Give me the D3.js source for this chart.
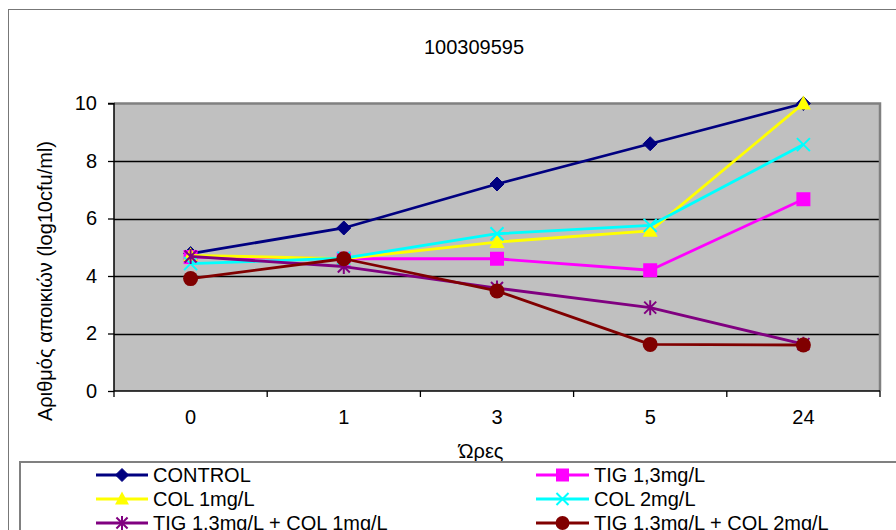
<!DOCTYPE html>
<html>
<head>
<meta charset="utf-8">
<script src="https://cdn.jsdelivr.net/npm/d3@7/dist/d3.min.js"></script>
<style>
  html, body { margin: 0; padding: 0; background: #fff; }
  svg { display: block; }
  text { font-family: "Liberation Sans", Arial, sans-serif; fill: #000; }
</style>
</head>
<body>
<svg id="chart" width="896" height="530"></svg>
<script>
// Time points (hours) and colony counts per treatment
const hours = ["0", "1", "3", "5", "24"];
const yTicks = [0, 2, 4, 6, 8, 10];

const control   = [4.78, 5.67, 7.2, 8.6, 10.0];
const tig13     = [4.66, 4.6, 4.6, 4.2, 6.67];
const col1      = [4.72, 4.6, 5.18, 5.57, 10.0];
const col2      = [4.43, 4.62, 5.47, 5.76, 8.57];
const tigCol1   = [4.68, 4.33, 3.58, 2.9, 1.63];
const tigCol2   = [3.91, 4.6, 3.48, 1.62, 1.6];

const seriesNames  = ["CONTROL", "TIG 1,3mg/L", "COL 1mg/L", "COL 2mg/L",
                      "TIG 1.3mg/L + COL 1mg/L", "TIG 1.3mg/L + COL 2mg/L"];
const seriesValues = [control, tig13, col1, col2, tigCol1, tigCol2];
const seriesColors = ["#000080", "#ff00ff", "#ffff00", "#00ffff", "#800080", "#800000"];
const seriesMarkers = ["diamond", "square", "triangle", "x", "star", "circle"];

const chartTitle = "100309595";
const xTitle = "Ώρες";
const yTitle = "Αριθμός αποικιών (log10cfu/ml)";

const svg = d3.select("#chart");

// Outer chart frame (extends past the visible area on the right and bottom)
svg.append("rect")
  .attr("x", 8.5).attr("y", 9.5)
  .attr("width", 1000).attr("height", 1000)
  .attr("fill", "#fff").attr("stroke", "#777").attr("stroke-width", 1);

const plot = { left: 114, right: 880, top: 103.5, bottom: 391 };

const x = d3.scaleBand().domain(hours).range([plot.left, plot.right]).padding(0);
const y = d3.scaleLinear().domain([0, 10]).range([plot.bottom, plot.top]);
const cx = d => x(d) + x.bandwidth() / 2;

// Plot background
svg.append("rect")
  .attr("x", plot.left).attr("y", plot.top)
  .attr("width", plot.right - plot.left).attr("height", plot.bottom - plot.top)
  .attr("fill", "#c0c0c0");

// Horizontal gridlines
svg.append("g").selectAll("line")
  .data(yTicks.filter(t => t > 0 && t < 10))
  .join("line")
  .attr("x1", plot.left).attr("x2", plot.right)
  .attr("y1", d => Math.round(y(d)) + 0.5).attr("y2", d => Math.round(y(d)) + 0.5)
  .attr("stroke", "#000").attr("stroke-width", 1.3);

// Plot border (top and right in grey)
svg.append("path")
  .attr("d", `M${plot.left},${plot.top} H${plot.right} V${plot.bottom}`)
  .attr("fill", "none").attr("stroke", "#808080").attr("stroke-width", 2.5);

// Y axis
const yAxis = d3.axisLeft(y).tickValues(yTicks).tickSize(6).tickPadding(11);
const gy = svg.append("g").attr("transform", `translate(${plot.left},0)`).call(yAxis);
gy.select(".domain").attr("stroke", "#000").attr("stroke-width", 1.5)
  .attr("d", `M-6,${plot.top}H0V${plot.bottom}`);
gy.selectAll(".tick line").attr("stroke", "#000").attr("stroke-width", 1.3);
gy.selectAll(".tick text")
  .style("font-family", '"Liberation Sans", Arial, sans-serif')
  .style("font-size", "20px").attr("fill", "#000");

// X axis: ticks at category boundaries, labels at band centres
const gx = svg.append("g").attr("transform", `translate(0,${plot.bottom})`);
gx.append("line")
  .attr("x1", plot.left).attr("x2", plot.right)
  .attr("y1", 0).attr("y2", 0)
  .attr("stroke", "#000").attr("stroke-width", 1.5);
const boundaries = hours.map(h => x(h)).concat([plot.right]);
gx.selectAll("line.tk").data(boundaries).join("line").attr("class", "tk")
  .attr("x1", d => d).attr("x2", d => d).attr("y1", 0).attr("y2", 6)
  .attr("stroke", "#000").attr("stroke-width", 1.3);
gx.selectAll("text").data(hours).join("text")
  .attr("x", d => cx(d)).attr("y", 33)
  .attr("text-anchor", "middle")
  .style("font-size", "20px")
  .text(d => d);

// Titles
svg.append("text").attr("x", 474).attr("y", 54)
  .attr("text-anchor", "middle").style("font-size", "20px").text(chartTitle);
svg.append("text").attr("x", 481).attr("y", 458)
  .attr("text-anchor", "middle").style("font-size", "20px").text(xTitle);
svg.append("text")
  .attr("transform", "translate(52,281) rotate(-90)")
  .attr("text-anchor", "middle").style("font-size", "20px").text(yTitle);

// Marker drawing
function drawMarker(g, type, color, px, py, s) {
  const k = s / 7;
  if (type === "diamond") {
    g.append("path").attr("d", `M${px},${py - 7 * k}L${px + 7 * k},${py}L${px},${py + 7 * k}L${px - 7 * k},${py}Z`)
      .attr("fill", color).attr("stroke", color).attr("stroke-width", 1);
  } else if (type === "square") {
    g.append("rect").attr("x", px - 7 * k).attr("y", py - 7 * k)
      .attr("width", 14 * k).attr("height", 14 * k).attr("fill", color);
  } else if (type === "triangle") {
    g.append("path").attr("d", `M${px},${py - 8 * k}L${px + 7.5 * k},${py + 6 * k}L${px - 7.5 * k},${py + 6 * k}Z`)
      .attr("fill", color);
  } else if (type === "x") {
    g.append("path").attr("d", `M${px - 6.5 * k},${py - 6.5 * k}L${px + 6.5 * k},${py + 6.5 * k}M${px - 6.5 * k},${py + 6.5 * k}L${px + 6.5 * k},${py - 6.5 * k}`)
      .attr("stroke", color).attr("stroke-width", 2).attr("fill", "none");
  } else if (type === "star") {
    g.append("path").attr("d", `M${px - 6 * k},${py - 6 * k}L${px + 6 * k},${py + 6 * k}M${px - 6 * k},${py + 6 * k}L${px + 6 * k},${py - 6 * k}M${px},${py - 7.5 * k}L${px},${py + 7.5 * k}`)
      .attr("stroke", color).attr("stroke-width", 2).attr("fill", "none");
  } else if (type === "circle") {
    g.append("circle").attr("cx", px).attr("cy", py).attr("r", 7.5 * k).attr("fill", color);
  }
}

// Series lines and markers, drawn in series order
const line = d3.line().x((d, i) => cx(hours[i])).y(d => y(d));
seriesValues.forEach((vals, si) => {
  const g = svg.append("g");
  g.append("path").datum(vals).attr("d", line)
    .attr("fill", "none").attr("stroke", seriesColors[si]).attr("stroke-width", 2.8)
    .attr("stroke-linejoin", "round");
  vals.forEach((v, i) => drawMarker(g, seriesMarkers[si], seriesColors[si], cx(hours[i]), y(v), 7));
});

// Legend
svg.append("rect")
  .attr("x", 20).attr("y", 462).attr("width", 1000).attr("height", 200)
  .attr("fill", "#fff").attr("stroke", "#808080").attr("stroke-width", 2);
const legendCols = [{ x1: 96, x2: 148, tx: 153 }, { x1: 536, x2: 589, tx: 594 }];
const legendRows = [475, 499, 523];
seriesNames.forEach((name, si) => {
  const col = legendCols[si % 2];
  const ry = legendRows[Math.floor(si / 2)];
  const g = svg.append("g");
  g.append("line").attr("x1", col.x1).attr("x2", col.x2).attr("y1", ry).attr("y2", ry)
    .attr("stroke", seriesColors[si]).attr("stroke-width", 2.8);
  drawMarker(g, seriesMarkers[si], seriesColors[si], (col.x1 + col.x2) / 2, ry, 6.5);
  g.append("text").attr("x", col.tx).attr("y", ry + 7)
    .style("font-size", "20px").text(name);
});
</script>
</body>
</html>
